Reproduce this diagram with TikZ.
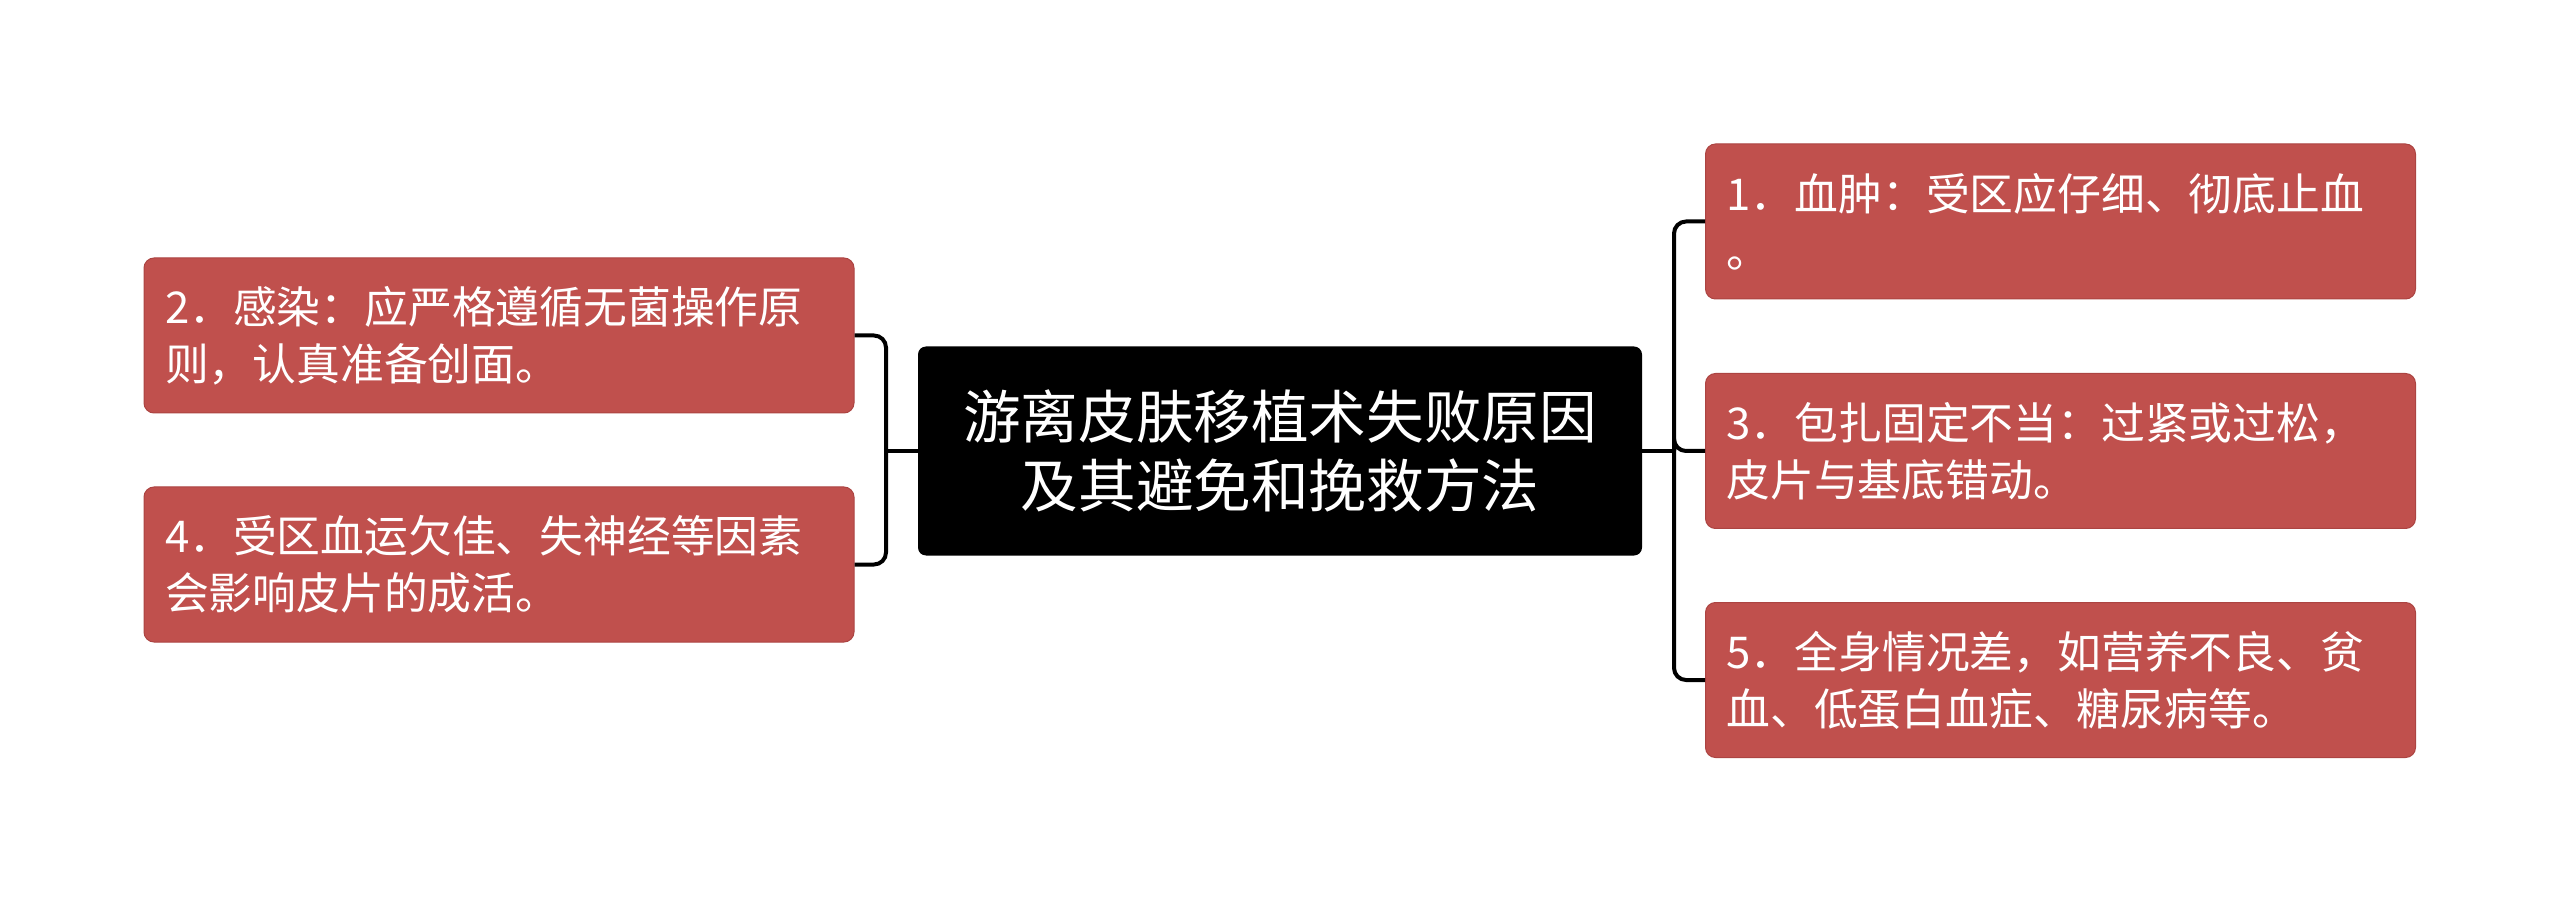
\documentclass[tikz,border=0pt]{standalone}
\usepackage{fontspec}
\setmainfont{Noto Sans CJK SC}
\usepackage{tikz}
\definecolor{boxred}{RGB}{192,80,77}
\definecolor{boxedge}{RGB}{172,68,66}

\begin{document}
\begin{tikzpicture}[x=0.5pt, y=-0.5pt]

\tikzset{
  root/.style={rectangle, rounded corners=4pt, fill=black, text=white, minimum width=362pt, minimum height=104.5pt, align=center, font=\fontsize{28.8}{34.3}\selectfont},
  leaf/.style={rectangle, rounded corners=5pt, fill=boxred, draw=boxedge, line width=0.5pt, text=white, minimum width=355pt, minimum height=77.5pt, text width=334pt, inner xsep=10.5pt, align=left, font=\fontsize{21.9}{28.5}\selectfont},
  link/.style={line width=2pt, rounded corners=6pt}
}
\useasboundingbox (0,0) rectangle (2560,903);

% Le nœud central
\node[root] (root) at (1280,451) {游离皮肤移植术失败原因\\及其避免和挽救方法};

% Les nœuds de gauche
\node[leaf] (l2) at (499,335.5) {2．感染：应严格遵循无菌操作原\\则，认真准备创面。};
\node[leaf] (l4) at (499,564.5) {4．受区血运欠佳、失神经等因素\\会影响皮片的成活。};

% Les nœuds de droite
\node[leaf] (r1) at (2060.5,221.5) {1．血肿：受区应仔细、彻底止血\\。};
\node[leaf] (r3) at (2060.5,451) {3．包扎固定不当：过紧或过松，\\皮片与基底错动。};
\node[leaf] (r5) at (2060.5,680) {5．全身情况差，如营养不良、贫\\血、低蛋白血症、糖尿病等。};

% Les jonctions
\coordinate (lj) at (886,451);
\coordinate (rj) at (1674,451);

% Les connexions
\draw[link] (root.west) -- (lj);
\foreach \n in {l2,l4}
\draw[link] (lj) |- (\n.east);
\draw[link] (root.east) -- (rj);
\foreach \n in {r1,r3,r5}
\draw[link] (rj) |- (\n.west);

\end{tikzpicture}
\end{document}
